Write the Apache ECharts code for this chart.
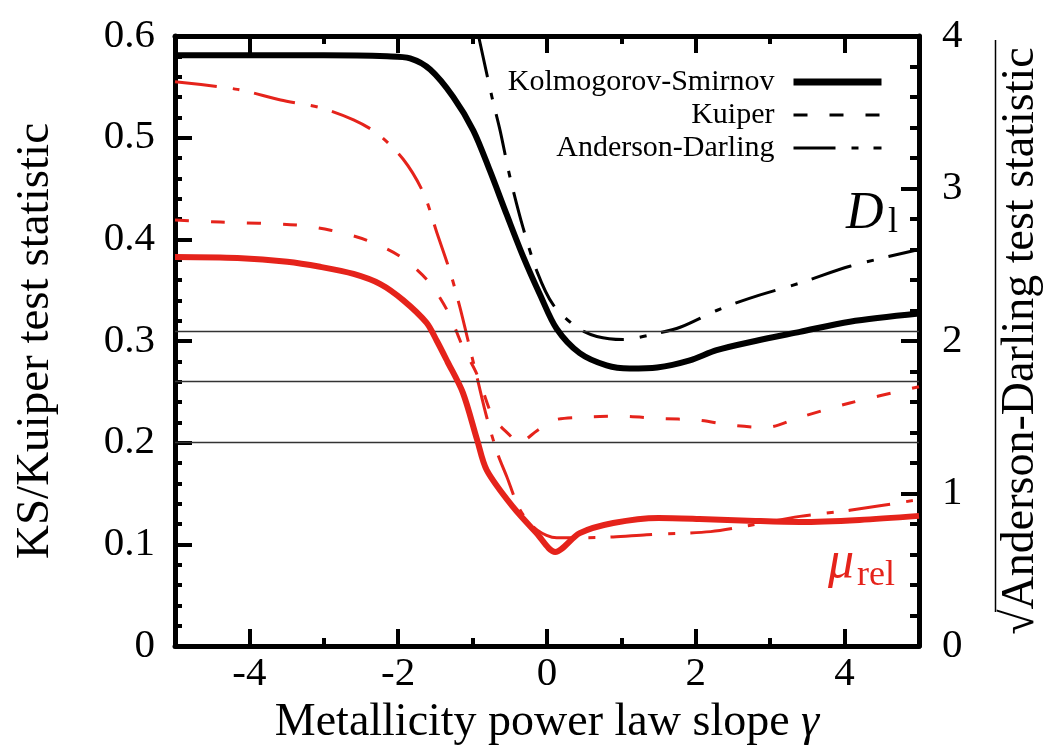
<!DOCTYPE html>
<html><head><meta charset="utf-8">
<script src="https://cdn.jsdelivr.net/npm/echarts@6/dist/echarts.min.js"></script>
<style>html,body{margin:0;padding:0;background:#fff;font-family:'Liberation Serif',serif}#c{width:1044px;height:745px}</style>
</head><body><div id="c"></div>
<script>
const FONT = 'Liberation Serif';
const RED = '#e5231b';

// x-axis ticks
const xMajorTicks = [-4, -2, 0, 2, 4];
const xMinorTicks = [-3, -1, 1, 3];

// horizontal reference levels (left axis)
const critLevels = [0.309, 0.2567, 0.2016];

// D_l, Kolmogorov-Smirnov (left axis)
const ksBlackX = [-5, -4, -3, -2.15, -1.84, -1.57, -1.26, -0.99, -0.77, -0.54, -0.32, -0.09, 0.13, 0.44, 0.80, 1.11, 1.48, 1.92, 2.28, 2.8, 3.4, 4.07, 5];
const ksBlackY = [0.581, 0.581, 0.581, 0.580, 0.578, 0.567, 0.540, 0.507, 0.468, 0.424, 0.383, 0.345, 0.312, 0.288, 0.276, 0.273, 0.274, 0.281, 0.291, 0.300, 0.309, 0.319, 0.327];

// D_l, Kuiper: entirely above the plotted range (legend only)
const kuiperBlackX = [];
const kuiperBlackY = [];

// D_l, sqrt Anderson-Darling (right axis)
const adBlackX = [-0.92, -0.74, -0.63, -0.50, -0.32, -0.13, 0.08, 0.40, 0.67, 1.02, 1.48, 1.79, 2.28, 2.72, 3.40, 4.07, 5];
const adBlackY = [4.0, 3.60, 3.38, 3.08, 2.74, 2.45, 2.24, 2.09, 2.03, 2.01, 2.05, 2.09, 2.20, 2.28, 2.38, 2.49, 2.60];

// mu_rel, Kolmogorov-Smirnov (left axis)
const ksRedX = [-5, -4.16, -3.49, -3.05, -2.6, -2.24, -1.93, -1.62, -1.48, -1.34, -1.13, -0.94, -0.81, -0.46, -0.14, 0.11, 0.44, 0.89, 1.5, 2.05, 2.8, 3.4, 4.2, 5];
const ksRedY = [0.3826, 0.3816, 0.378, 0.373, 0.366, 0.356, 0.340, 0.318, 0.300, 0.280, 0.249, 0.203, 0.173, 0.137, 0.111, 0.0925, 0.111, 0.121, 0.126, 0.125, 0.123, 0.122, 0.124, 0.128];

// mu_rel, Kuiper (left axis)
const kuiperRedX = [-5, -4.39, -3.36, -2.91, -2.42, -1.97, -1.61, -1.34, -1.13, -0.94, -0.77, -0.70, -0.47, -0.40, -0.13, 0.08, 0.44, 0.98, 1.48, 2.05, 2.5, 2.95, 3.4, 4.07, 5];
const kuiperRedY = [0.419, 0.417, 0.414, 0.409, 0.399, 0.383, 0.360, 0.330, 0.294, 0.267, 0.232, 0.222, 0.205, 0.199, 0.212, 0.222, 0.225, 0.226, 0.224, 0.222, 0.217, 0.215, 0.225, 0.239, 0.255];

// mu_rel, sqrt Anderson-Darling (right axis)
const adRedX = [-5, -4.16, -3.58, -3.05, -2.6, -2.28, -1.93, -1.66, -1.48, -1.30, -1.17, -1.03, -0.94, -0.81, -0.67, -0.54, -0.36, -0.13, 0.13, 0.44, 0.89, 1.34, 2.2, 2.72, 3.4, 4.07, 5];
const adRedY = [3.70, 3.65, 3.58, 3.53, 3.45, 3.36, 3.19, 2.97, 2.71, 2.45, 2.22, 1.94, 1.76, 1.50, 1.27, 1.11, 0.89, 0.76, 0.71, 0.71, 0.715, 0.73, 0.75, 0.79, 0.85, 0.89, 0.96];

const pairs = (xs, ys) => xs.map((x, i) => [x, ys[i]]);

const KS_DASH = 'solid';
const KUIPER_DASH = [14, 22];
const AD_DASH = [42, 16, 7, 15];

function lineSeries(name, xs, ys, color, width, type, yAxisIndex, extra) {
  return Object.assign({
    name, type: 'line', xAxisIndex: 0, yAxisIndex,
    data: pairs(xs, ys), symbol: 'none', showSymbol: false,
    smooth: 0.3, silent: true, clip: true,
    lineStyle: { color, width, type, cap: 'butt', join: 'round' },
    itemStyle: { color },
    emphasis: { disabled: true }
  }, extra || {});
}

const chart = echarts.init(document.getElementById('c'), null, { renderer: 'canvas' });

const tickStyle = { color: '#000', width: 4 };
const axisLineStyle = { color: '#000', width: 5 };
const txt = (size, extra) => Object.assign({ fontFamily: FONT, fontSize: size, color: '#000', fontWeight: 'normal' }, extra || {});

chart.setOption({
  animation: false,
  backgroundColor: '#fff',
  textStyle: { fontFamily: FONT },
  grid: { left: 175, right: 125, top: 36, bottom: 99, containLabel: false, outerBoundsMode: 'none' },
  legend: {
    orient: 'vertical', right: 159, top: 67, align: 'right', padding: 0,
    itemWidth: 88, itemHeight: 14, itemGap: 3,
    data: [
      { name: 'Kolmogorov-Smirnov', lineStyle: { width: 7, type: 'solid', color: '#000' } },
      { name: 'Kuiper', lineStyle: { width: 3, type: KUIPER_DASH, color: '#000' } },
      { name: 'Anderson-Darling', lineStyle: { width: 3, type: AD_DASH, color: '#000' } }
    ],
    itemStyle: { color: 'rgba(0,0,0,0)', borderColor: 'rgba(0,0,0,0)', borderWidth: 0, opacity: 0 },
    textStyle: txt(30, { padding: [0, 14, 0, 0] }),
    selectedMode: false
  },
  xAxis: [
    {
      type: 'value', min: -5, max: 5, position: 'bottom',
      axisLine: { show: true, onZero: false, lineStyle: axisLineStyle },
      axisTick: { show: true, inside: true, length: 17, lineStyle: tickStyle, customValues: xMajorTicks },
      axisLabel: Object.assign({ customValues: xMajorTicks, margin: 8 }, txt(41)),
      splitLine: { show: false },
      name: 'Metallicity power law slope {g|γ}', nameLocation: 'middle', nameGap: 52,
      nameTextStyle: txt(46, { rich: { g: txt(46, { fontStyle: 'italic' }) } })
    },
    {
      type: 'value', min: -5, max: 5, position: 'bottom',
      axisLine: { show: false, onZero: false },
      axisTick: { show: true, inside: true, length: 8, lineStyle: tickStyle, customValues: xMinorTicks },
      axisLabel: { show: false }, splitLine: { show: false }
    },
    {
      type: 'value', min: -5, max: 5, position: 'top',
      axisLine: { show: true, onZero: false, lineStyle: axisLineStyle },
      axisTick: { show: true, inside: true, length: 17, lineStyle: tickStyle, customValues: xMajorTicks },
      axisLabel: { show: false }, splitLine: { show: false }
    },
    {
      type: 'value', min: -5, max: 5, position: 'top',
      axisLine: { show: false, onZero: false },
      axisTick: { show: true, inside: true, length: 8, lineStyle: tickStyle, customValues: xMinorTicks },
      axisLabel: { show: false }, splitLine: { show: false }
    }
  ],
  yAxis: [
    {
      type: 'value', min: 0, max: 0.6, interval: 0.1, position: 'left',
      axisLine: { show: true, onZero: false, lineStyle: axisLineStyle },
      axisTick: { show: true, inside: true, length: 17, lineStyle: tickStyle },
      minorTick: { show: true, splitNumber: 5, length: 7, lineStyle: tickStyle },
      axisLabel: Object.assign({ margin: 20, padding: [0, 0, 10, 0] }, txt(41)),
      splitLine: { show: false }, minorSplitLine: { show: false },
      name: 'KS/Kuiper test statistic', nameLocation: 'middle', nameRotate: 90, nameGap: 116,
      nameTextStyle: txt(47)
    },
    {
      type: 'value', min: 0, max: 4, interval: 1, position: 'right',
      axisLine: { show: true, onZero: false, lineStyle: axisLineStyle },
      axisTick: { show: true, inside: true, length: 18, lineStyle: tickStyle },
      minorTick: { show: true, splitNumber: 5, length: 9, lineStyle: tickStyle },
      axisLabel: Object.assign({ margin: 23, padding: [0, 0, 10, 0] }, txt(41)),
      splitLine: { show: false }, minorSplitLine: { show: false },
      name: '√Anderson-Darling test statistic', nameLocation: 'middle', nameRotate: 90, nameGap: 79,
      nameTextStyle: txt(46)
    }
  ],
  series: [
    lineSeries('Kolmogorov-Smirnov', ksBlackX, ksBlackY, '#000', 6, KS_DASH, 0, { z: 5 }),
    lineSeries('Kuiper', kuiperBlackX, kuiperBlackY, '#000', 3, KUIPER_DASH, 0),
    lineSeries('Anderson-Darling', adBlackX, adBlackY, '#000', 3, AD_DASH, 1),
    lineSeries('μrel Kolmogorov-Smirnov', ksRedX, ksRedY, RED, 6, KS_DASH, 0, {
      z: 5,
      markLine: {
        silent: true, symbol: 'none', label: { show: false },
        lineStyle: { color: '#333', width: 1.3, type: 'solid' },
        emphasis: { disabled: true },
        data: critLevels.map(v => ({ yAxis: v }))
      }
    }),
    lineSeries('μrel Kuiper', kuiperRedX, kuiperRedY, RED, 3, KUIPER_DASH, 0),
    lineSeries('μrel Anderson-Darling', adRedX, adRedY, RED, 3, AD_DASH, 1)
  ],
  graphic: [
    { type: 'text', x: 846, y: 214, silent: true,
      style: { text: 'D', fontFamily: FONT, fontSize: 52, fontStyle: 'italic', fill: '#000', align: 'left', verticalAlign: 'middle' } },
    { type: 'text', x: 888, y: 223, silent: true,
      style: { text: 'l', fontFamily: FONT, fontSize: 36, fill: '#000', align: 'left', verticalAlign: 'middle' } },
    { type: 'text', x: 828, y: 563, silent: true,
      style: { text: 'μ', fontFamily: FONT, fontSize: 52, fontStyle: 'italic', fill: RED, align: 'left', verticalAlign: 'middle' } },
    { type: 'text', x: 857, y: 576, silent: true,
      style: { text: 'rel', fontFamily: FONT, fontSize: 36, fill: RED, align: 'left', verticalAlign: 'middle' } },
    { type: 'line', silent: true,
      shape: { x1: 995.5, y1: 40, x2: 995.5, y2: 612 },
      style: { stroke: '#000', lineWidth: 1.5 } }
  ]
});
</script></body></html>
